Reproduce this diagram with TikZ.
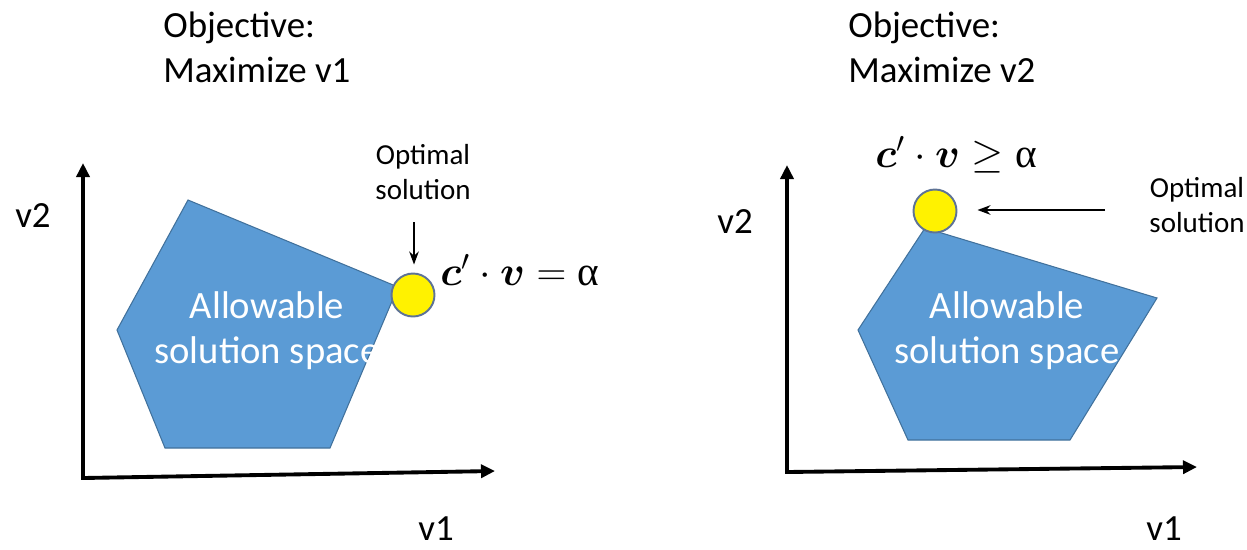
\RequirePackage{fix-cm}
\documentclass[tikz,border=0pt]{standalone}
\usepackage{amsmath}
\usepackage{bm}
\usepackage{fontspec}
\setmainfont{Carlito}
\newfontfamily\greekfont{Liberation Serif}
\usetikzlibrary{shapes,arrows,arrows.meta,positioning,calc}

\definecolor{regionblue}{HTML}{5B9BD5}
\definecolor{regionline}{HTML}{41719C}
\definecolor{optline}{HTML}{5E7396}

\begin{document}
\begin{tikzpicture}[
  x=0.02cm, y=-0.02cm,
  axis/.style={line width=2.2pt, {Triangle[length=0.28cm,width=0.26cm]}-{Triangle[length=0.28cm,width=0.26cm]}},
  region/.style={fill=regionblue, draw=regionline, line width=0.6pt},
  optimum/.style={circle, fill=yellow, draw=optline, line width=1.1pt, minimum size=0.86cm, inner sep=0pt},
  edge/.style={->, >={Stealth[length=0.26cm,width=0.19cm]}, line width=1.3pt},
  title/.style={font=\fontsize{21}{25.5}\selectfont, align=left, anchor=north west, inner sep=0pt},
  varname/.style={font=\fontsize{21}{25}\selectfont, anchor=base, inner sep=0pt},
  note/.style={font=\fontsize{16.5}{20}\selectfont, align=center, inner sep=0pt},
  inside/.style={font=\fontsize{22}{25.5}\selectfont, text=white, align=center, inner sep=0pt},
  formula/.style={font=\fontsize{23.5}{28}\selectfont, anchor=base west, inner sep=0pt}
]
\useasboundingbox (0,0) rectangle (1247,549);

% left: maximize v1
\node[title] (obj1) at (163,12) {Objective:\\Maximize v1};
\coordinate (o1) at (83,478);
\coordinate (y1) at (83,163);
\coordinate (x1) at (495,471);
\draw[axis] (y1) -- (o1) -- (x1);
\node[varname] (v2a) at (33,227) {v2};
\node[varname] (v1a) at (436,540) {v1};
\draw[region] (188,200) -- (398,287) -- (330,448) -- (165,448) -- (117,330) -- cycle;
\node[inside] (sp1) at (267,331) {Allowable\\solution space};
\node[optimum] (opt1) at (413,295) {};
\node[note] (lbl1) at (423,172) {Optimal\\solution};
\coordinate (a1) at (414,222);
\draw[edge, shorten >=0.16cm] (a1) -- (a1 |- opt1.north);
\node[formula] (eq1) at (440,285) {$\bm{c}'\cdot\bm{v}=\text{\greekfont α}$};

% right: maximize v2
\node[title] (obj2) at (848,12) {Objective:\\Maximize v2};
\coordinate (o2) at (787,472);
\coordinate (y2) at (787,165);
\coordinate (x2) at (1197,467);
\draw[axis] (y2) -- (o2) -- (x2);
\node[varname] (v2b) at (735,233) {v2};
\node[varname] (v1b) at (1164,540) {v1};
\draw[region] (925,228) -- (1157,298) -- (1070,440) -- (908,440) -- (858,330) -- cycle;
\node[inside] (sp2) at (1007,331) {Allowable\\solution space};
\node[optimum] (opt2) at (935,211) {};
\node[note] (lbl2) at (1197,205) {Optimal\\solution};
\coordinate (a2) at (1105,210);
\draw[edge, shorten >=0.4cm] (a2) -- (a2 -| opt2.east);
\node[formula] (eq2) at (875,167) {$\bm{c}'\cdot\bm{v}\geq\text{\greekfont α}$};

\end{tikzpicture}
\end{document}
